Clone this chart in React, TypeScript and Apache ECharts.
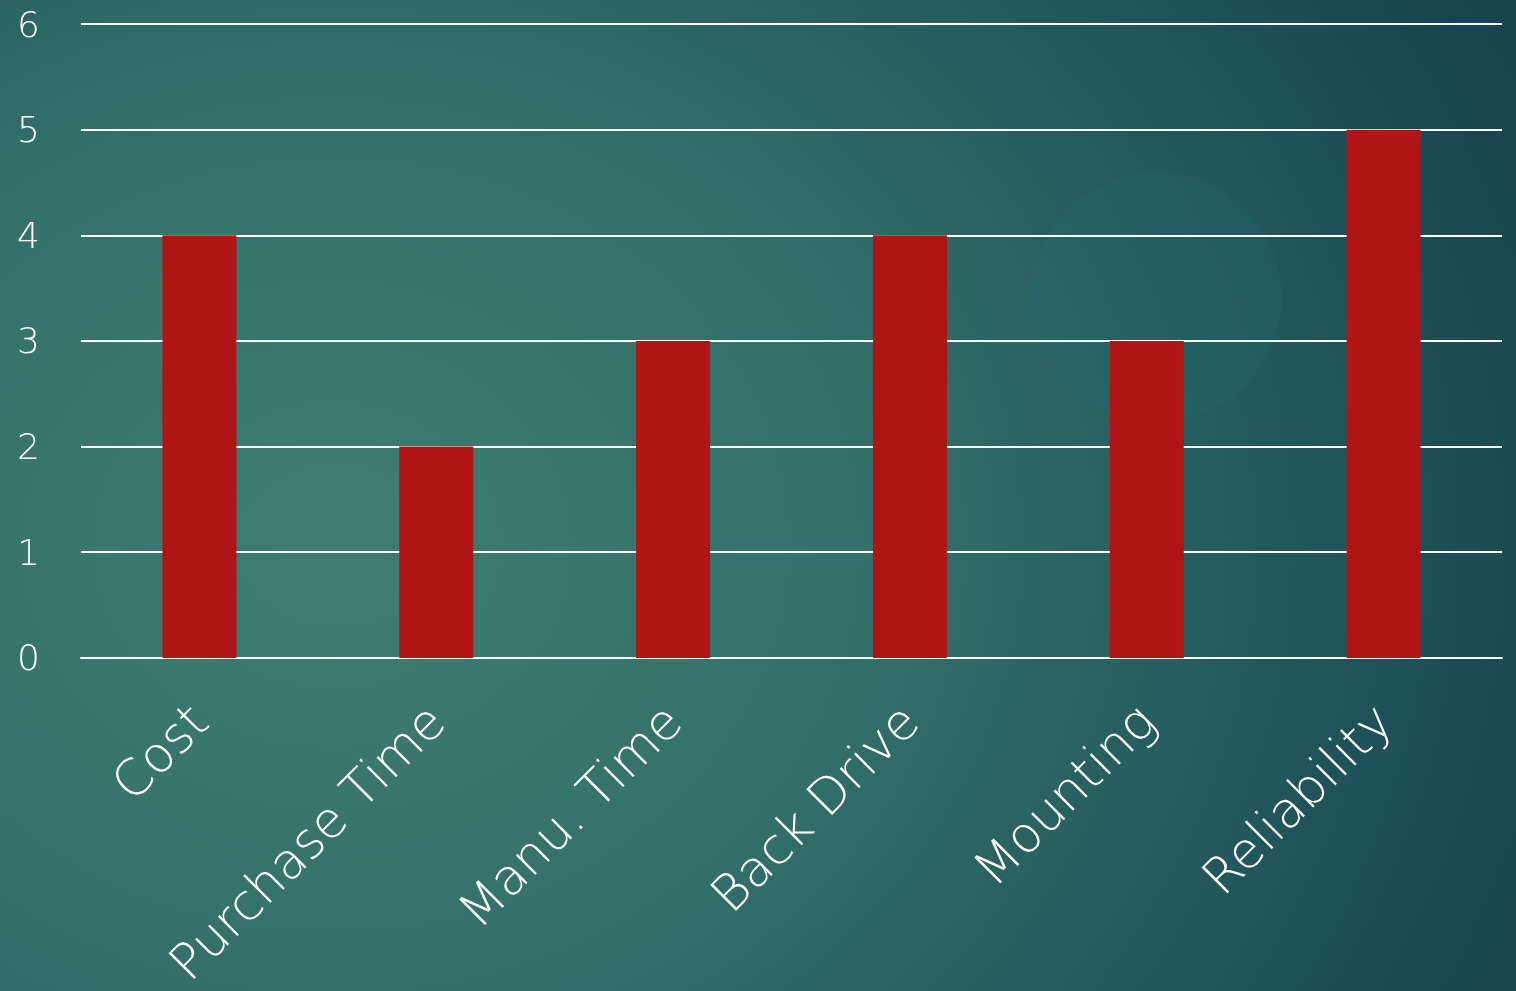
import React, { useEffect, useRef } from "react";
import * as echarts from "echarts";

const categories = ["Cost", "Purchase Time", "Manu. Time", "Back Drive", "Mounting", "Reliability"];
const values = [4, 2, 3, 4, 3, 5];
const yTicks = [0, 1, 2, 3, 4, 5, 6];

export default function App() {
  const ref = useRef<HTMLDivElement>(null);
  useEffect(() => {
    document.body.style.margin = "0";
    const chart = echarts.init(ref.current!, null, { renderer: "svg", width: 1516, height: 991 });
    chart.setOption({
      animation: false,
      backgroundColor: "transparent",
      textStyle: { fontFamily: "DejaVu Sans" },
      grid: { left: 81, right: 14, top: 24, bottom: 332, containLabel: false },
      xAxis: {
        type: "category",
        data: categories,
        axisLine: { show: true, lineStyle: { color: "#ffffff", width: 2 } },
        axisTick: { show: false },
        axisLabel: {
          color: "#ffffff",
          fontSize: 50,
          fontWeight: 200,
          rotate: 45,
          margin: 55,
          interval: 0,
        },
      },
      yAxis: {
        type: "value",
        min: yTicks[0],
        max: yTicks[yTicks.length - 1],
        interval: 1,
        axisLine: { show: false },
        axisTick: { show: false },
        splitLine: { show: true, lineStyle: { color: "#ffffff", width: 2 } },
        axisLabel: { color: "#ffffff", fontSize: 36, fontWeight: 200, margin: 41 },
      },
      series: [
        {
          type: "bar",
          data: values,
          barWidth: 74,
          itemStyle: { color: "#b01515" },
        },
      ],
    });
    return () => chart.dispose();
  }, []);
  return (
    <div
      style={{
        position: "fixed",
        left: 0,
        top: 0,
        width: 1516,
        height: 991,
        overflow: "hidden",
        background:
          "radial-gradient(ellipse 100% 130% at 22% 55%, #3f7c70 0%, #33706a 35%, #21565a 65%, #113747 100%)",
      }}
    >
      <div
        style={{
          position: "absolute",
          left: 1157 - 125,
          top: 297 - 125,
          width: 250,
          height: 250,
          borderRadius: "50%",
          background: "rgba(40,110,125,0.16)",
        }}
      />
      <div ref={ref} style={{ position: "absolute", left: 0, top: 0, width: 1516, height: 991 }} />
    </div>
  );
}
